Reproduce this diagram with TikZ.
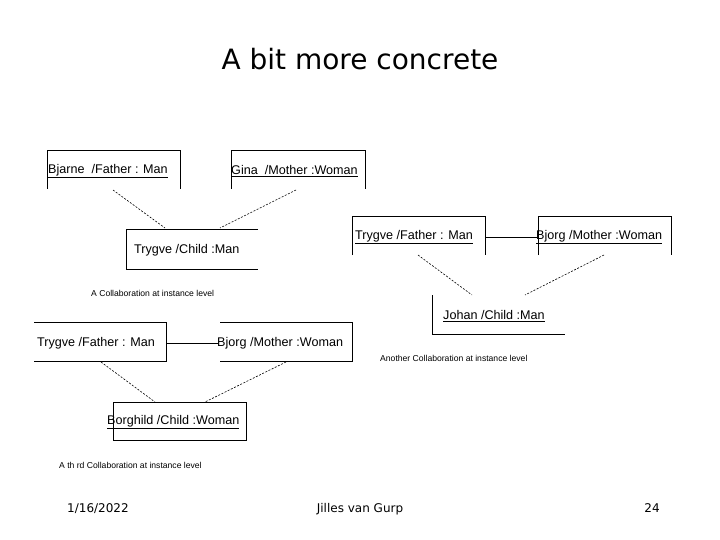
\documentclass[tikz,border=0pt]{standalone}
\usepackage{fontspec}
\setmainfont{Liberation Sans}
\newfontfamily\gothicfont{DejaVu Sans}
\begin{document}
\begin{tikzpicture}[x=1pt,y=-1pt,
  lbl/.style={anchor=west,inner sep=0pt,font=\fontsize{12.6}{13}\selectfont},
  captxt/.style={anchor=west,inner sep=0pt,font=\fontsize{8.6}{9}\selectfont},
  foot/.style={inner sep=0pt,anchor=base,font=\gothicfont\fontsize{12}{13}\selectfont},
  ln/.style={line width=0.8pt},
  dsh/.style={line width=0.6pt,dash pattern=on 2pt off 1.5pt}]
\useasboundingbox (0,0) rectangle (720,540);
\node[font=\gothicfont\fontsize{28}{30}\selectfont,inner sep=0pt] (title) at (360,59) {A bit more concrete};
% first collaboration
\draw[ln] (47,189) -- (47,150) -- (180,150) -- (180,189);
\node[lbl] (b1) at (48,171) {\underline{Bjarne\ \ /Father : Man}};
\draw[ln] (231,189) -- (231,150) -- (365,150) -- (365,189);
\node[lbl] (g1) at (231,171) {\underline{Gina\ \ /Mother :Woman}};
\draw[ln] (258,229) -- (126,229) -- (126,269) -- (258,269);
\node[lbl] (t1) at (134,250) {Trygve /Child :Man};
\coordinate (d1a) at (113,190); \coordinate (d1b) at (165,228);
\coordinate (d1c) at (296,190); \coordinate (d1d) at (220,228);
\draw[dsh] (d1a) -- (d1b); \draw[dsh] (d1c) -- (d1d);
\node[captxt] (c1) at (91,293) {A Collaboration at instance level};
% second
\draw[ln] (352,255) -- (352,216) -- (485,216) -- (485,255);
\node[lbl] (t2) at (355,237) {\underline{Trygve /Father : Man}};
\draw[ln] (538,255) -- (538,216) -- (671,216) -- (671,255);
\node[lbl] (bj2) at (536,237) {\underline{Bjorg /Mother :Woman}};
\coordinate (s2a) at (485,237); \coordinate (s2b) at (537,237);
\draw[ln] (s2a) -- (s2b);
\draw[ln] (432,295) -- (432,334) -- (565,334);
\node[lbl] (j2) at (443,316) {\underline{Johan /Child :Man}};
\coordinate (d2a) at (418,255); \coordinate (d2b) at (472,295);
\coordinate (d2c) at (604,255); \coordinate (d2d) at (525,295);
\draw[dsh] (d2a) -- (d2b); \draw[dsh] (d2c) -- (d2d);
\node[captxt] (c2) at (380,358) {Another Collaboration at instance level};
% third
\draw[ln] (34,322) -- (166,322) -- (166,361) -- (34,361);
\node[lbl] (t3) at (37,343) {Trygve /Father : Man};
\draw[ln] (220,322) -- (352,322) -- (352,361) -- (220,361);
\node[lbl] (bj3) at (217,343) {Bjorg /Mother :Woman};
\coordinate (s3a) at (166,343); \coordinate (s3b) at (218,343);
\draw[ln] (s3a) -- (s3b);
\draw[ln] (113,402) rectangle (246,440);
\node[lbl] (bo3) at (107,422) {\underline{Borghild /Child :Woman}};
\coordinate (d3a) at (101,362); \coordinate (d3b) at (155,402);
\coordinate (d3c) at (286,362); \coordinate (d3d) at (205,402);
\draw[dsh] (d3a) -- (d3b); \draw[dsh] (d3c) -- (d3d);
\node[captxt] (c3) at (59,465) {A th rd Collaboration at instance level};
% footer
\node[foot] (f1) at (98,512) {1/16/2022};
\node[foot] (f2) at (360,512) {Jilles van Gurp};
\node[foot] (f3) at (652,512) {24};
\end{tikzpicture}
\end{document}
